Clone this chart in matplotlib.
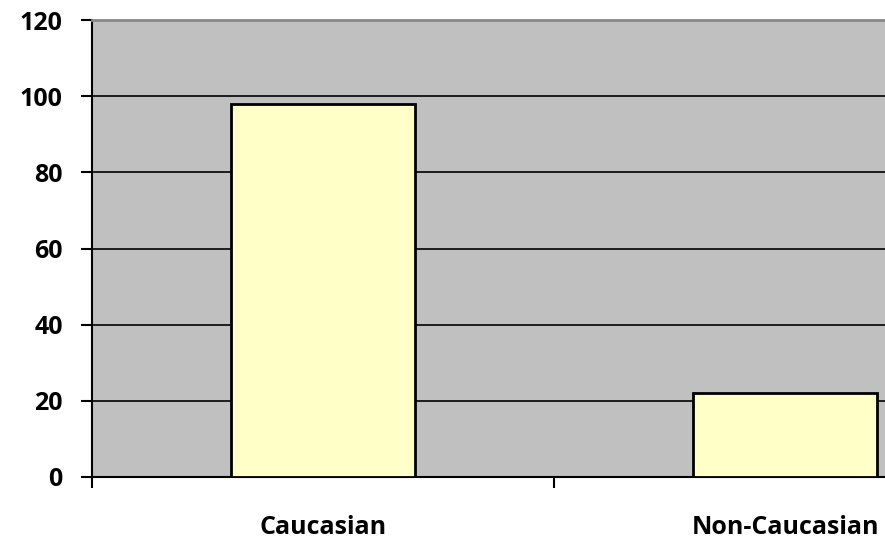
import matplotlib.pyplot as plt
import numpy as np

plt.rcParams['font.family'] = ['Open Sans', 'DejaVu Sans']

# group percentages
groups = ['Caucasian', 'Non-Caucasian']
values = [98, 22]
y_ticks = [0, 20, 40, 60, 80, 100, 120]

fig = plt.figure(figsize=(8.85, 5.42), dpi=100)
# plot area runs past the right edge of the figure
ax = fig.add_axes([92 / 885, 65 / 542, 924 / 885, 457 / 542])
ax.set_facecolor('#c0c0c0')

x = np.arange(len(groups))
ax.bar(x, values, width=0.4, color='#ffffc8', edgecolor='black',
       linewidth=2, zorder=3)

ax.set_xlim(-0.5, len(groups) - 0.5)
ax.set_ylim(0, 120)
ax.set_yticks(y_ticks)
ax.set_yticklabels([str(v) for v in y_ticks], fontsize=18, fontweight='bold')
for v in y_ticks[1:-1]:
    ax.axhline(v, color='black', linewidth=1.2, zorder=1)

# category labels at centres, tick marks at boundaries
ax.set_xticks(x)
ax.set_xticklabels(groups, fontsize=18, fontweight='bold')
ax.tick_params(axis='x', which='major', length=0, pad=27)
ax.set_xticks(np.arange(len(groups)) - 0.5, minor=True)
ax.tick_params(axis='x', which='minor', length=8, width=1.5, direction='out')
ax.tick_params(axis='y', length=8, width=1.5, direction='out', pad=13)

ax.spines['left'].set_linewidth(1.5)
ax.spines['bottom'].set_linewidth(1.5)
ax.spines['top'].set_color('#888888')
ax.spines['top'].set_linewidth(2)
ax.spines['right'].set_visible(False)

fig.savefig('out.png', dpi=100)
